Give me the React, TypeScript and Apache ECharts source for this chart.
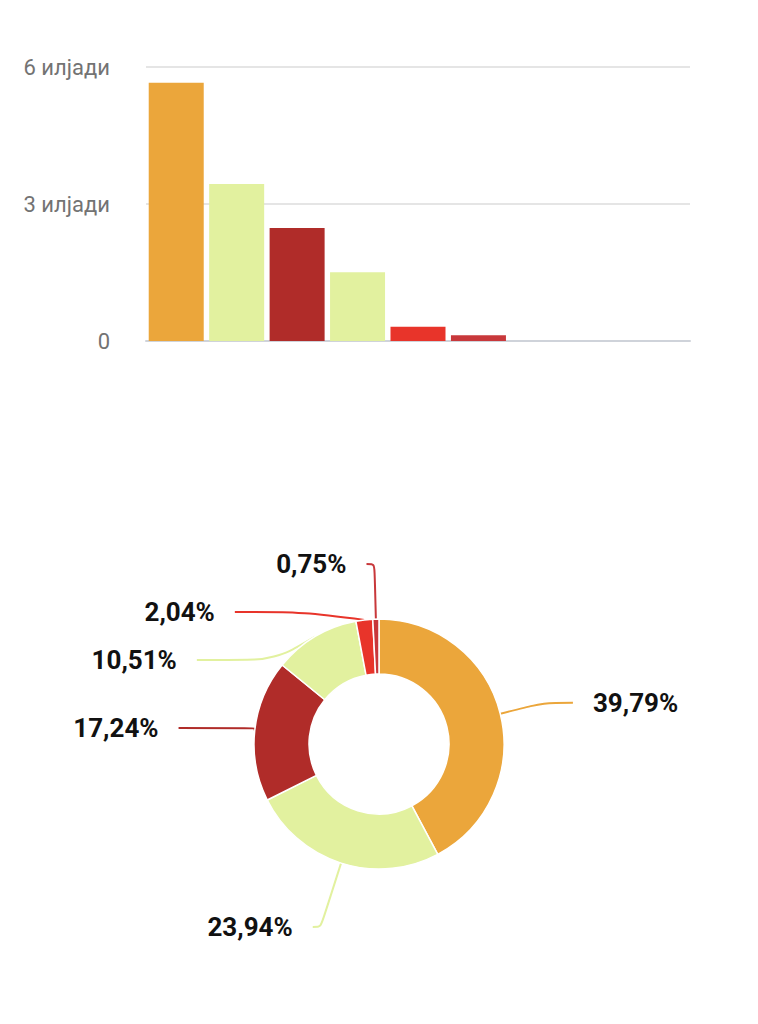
import React, { useEffect, useRef } from "react";
import * as echarts from "echarts";

const categories = ["1", "2", "3", "4", "5", "6", "7", "8", "9"];
const barValues = [5656, 3438, 2474, 1504, 313, 125, 0, 0, 0];
const colors = ["#EBA63B", "#E2F19F", "#B02C29", "#E2F19F", "#E8342A", "#C8383B", "#CCCCCC", "#CCCCCC", "#CCCCCC"];
const yTicks = [0, 3000, 6000];
const yTickLabels = ["0", "3 илјади", "6 илјади"];
const pieValues = [39.79, 23.94, 17.24, 10.51, 2.04, 0.75];
const pieLineLengths = [
  [45, 29],
  [67, 8],
  [20, 76],
  [15, 78],
  [12, 70],
  [55, 8],
];

export default function App() {
  const ref = useRef<HTMLDivElement>(null);
  useEffect(() => {
    document.body.style.margin = "0";
    const chart = echarts.init(ref.current!, null, { renderer: "svg" });
    chart.setOption({
      animation: false,
      textStyle: { fontFamily: "Roboto" },
      grid: { left: 146, right: 68, top: 67, height: 274 },
      xAxis: {
        type: "category",
        data: categories,
        axisLabel: { show: false },
        axisTick: { show: false },
        axisLine: { lineStyle: { color: "#CFD3DA", width: 2 } },
      },
      yAxis: {
        type: "value",
        min: 0,
        max: 6000,
        interval: 3000,
        axisLabel: {
          fontSize: 22,
          color: "#737373",
          margin: 36,
          formatter: (v: number) => yTickLabels[yTicks.indexOf(v)] ?? String(v),
        },
        splitLine: { lineStyle: { color: "#DDDDDD", width: 1.5 } },
      },
      series: [
        {
          type: "bar",
          data: barValues.map((v, i) => ({ value: v, itemStyle: { color: colors[i] } })),
          barCategoryGap: "9%",
        },
        {
          type: "pie",
          center: [379, 744],
          radius: [70, 125],
          startAngle: 90,
          clockwise: true,
          avoidLabelOverlap: true,
          minShowLabelAngle: 0,
          itemStyle: { borderColor: "#ffffff", borderWidth: 1.5 },
          label: {
            show: true,
            position: "outside",
            fontSize: 26,
            fontWeight: "bold",
            color: "#111111",
            fontFamily: "Roboto",
            distanceToLabelLine: 20,
            minMargin: 22,
            formatter: (p: any) => p.value.toFixed(2).replace(".", ",") + "%",
          },
          labelLine: { show: true, smooth: 0.3, lineStyle: { width: 2 } },
          data: pieValues.map((v, i) => ({
            value: v,
            itemStyle: { color: colors[i] },
            labelLine: { length: pieLineLengths[i][0], length2: pieLineLengths[i][1] },
          })),
        },
      ],
    });
    return () => chart.dispose();
  }, []);
  return <div ref={ref} style={{ width: 758, height: 1024 }} />;
}
